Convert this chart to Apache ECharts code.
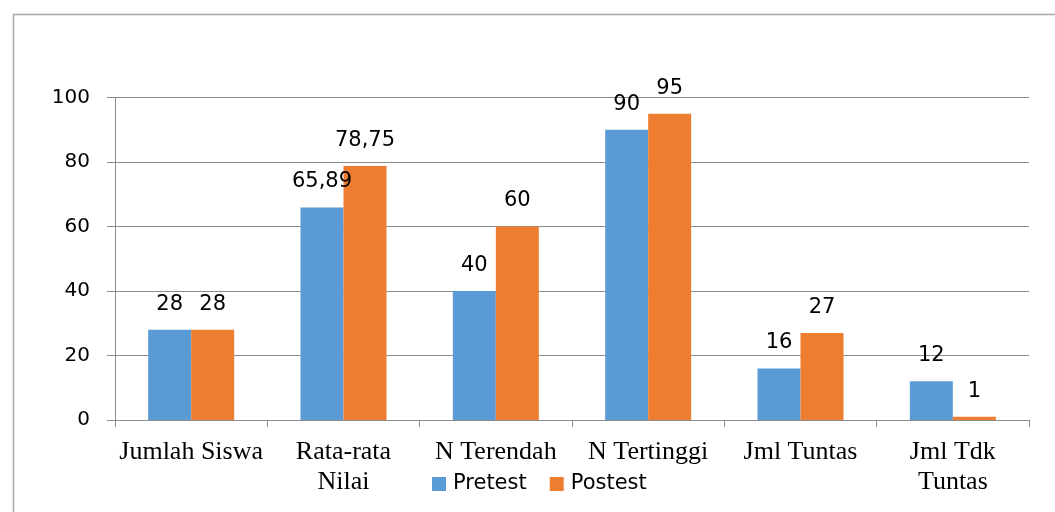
<!DOCTYPE html>
<html>
<head>
<meta charset="utf-8">
<script src="https://cdn.jsdelivr.net/npm/echarts@6/dist/echarts.min.js"></script>
<style>
html,body{margin:0;padding:0;background:#fff;}
#c{width:1055px;height:512px;}
</style>
</head>
<body>
<div id="c"></div>
<script>
const categories = ['Jumlah Siswa', 'Rata-rata\nNilai', 'N Terendah', 'N Tertinggi', 'Jml Tuntas', 'Jml Tdk\nTuntas'];
const pretest = [28, 65.89, 40, 90, 16, 12];
const postest = [28, 78.75, 60, 95, 27, 1];
const yTicks = { min: 0, max: 100, interval: 20 };

const chart = echarts.init(document.getElementById('c'), null, { renderer: 'canvas' });
const labelFmt = p => String(p.value).replace('.', ',');
const labelStyle = {
  show: true, position: 'top', distance: 15,
  fontFamily: 'DejaVu Sans', fontSize: 21, color: '#000', formatter: labelFmt
};
chart.setOption({
  animation: false,
  backgroundColor: '#fff',
  graphic: [{
    type: 'rect', left: 11, top: 12, silent: true,
    shape: { width: 1100, height: 600 },
    style: { fill: 'none', stroke: '#a8a8a8', lineWidth: 1.5 }
  }],
  grid: { left: 115, right: 26, top: 97.5, bottom: 92, containLabel: false },
  legend: {
    data: ['Pretest', 'Postest'],
    left: 432, top: 472, padding: 0,
    itemWidth: 14, itemHeight: 14, itemGap: 23,
    icon: 'rect',
    textStyle: { fontFamily: 'DejaVu Sans', fontSize: 21, color: '#000', lineHeight: 24, padding: [0, 0, 0, 2] }
  },
  xAxis: {
    type: 'category', data: categories,
    axisLine: { lineStyle: { color: '#8c8c8c', width: 1 } },
    axisTick: { show: true, length: 7, lineStyle: { color: '#8c8c8c' } },
    axisLabel: {
      interval: 0, margin: 17, color: '#000',
      fontFamily: 'Liberation Serif', fontSize: 26, lineHeight: 30
    }
  },
  yAxis: {
    type: 'value', min: yTicks.min, max: yTicks.max, interval: yTicks.interval,
    axisLine: { show: true, lineStyle: { color: '#8c8c8c', width: 1 } },
    axisTick: { show: true, length: 8, lineStyle: { color: '#8c8c8c' } },
    splitLine: { lineStyle: { color: '#8c8c8c', width: 1 } },
    axisLabel: { margin: 25, color: '#000', fontFamily: 'DejaVu Sans', fontSize: 20 }
  },
  series: [
    { name: 'Pretest', type: 'bar', data: pretest, barWidth: 43, barGap: '0%',
      itemStyle: { color: '#5B9BD5' }, label: labelStyle },
    { name: 'Postest', type: 'bar', data: postest, barWidth: 43, barGap: '0%',
      itemStyle: { color: '#ED7D31' }, label: labelStyle }
  ]
});
</script>
</body>
</html>
